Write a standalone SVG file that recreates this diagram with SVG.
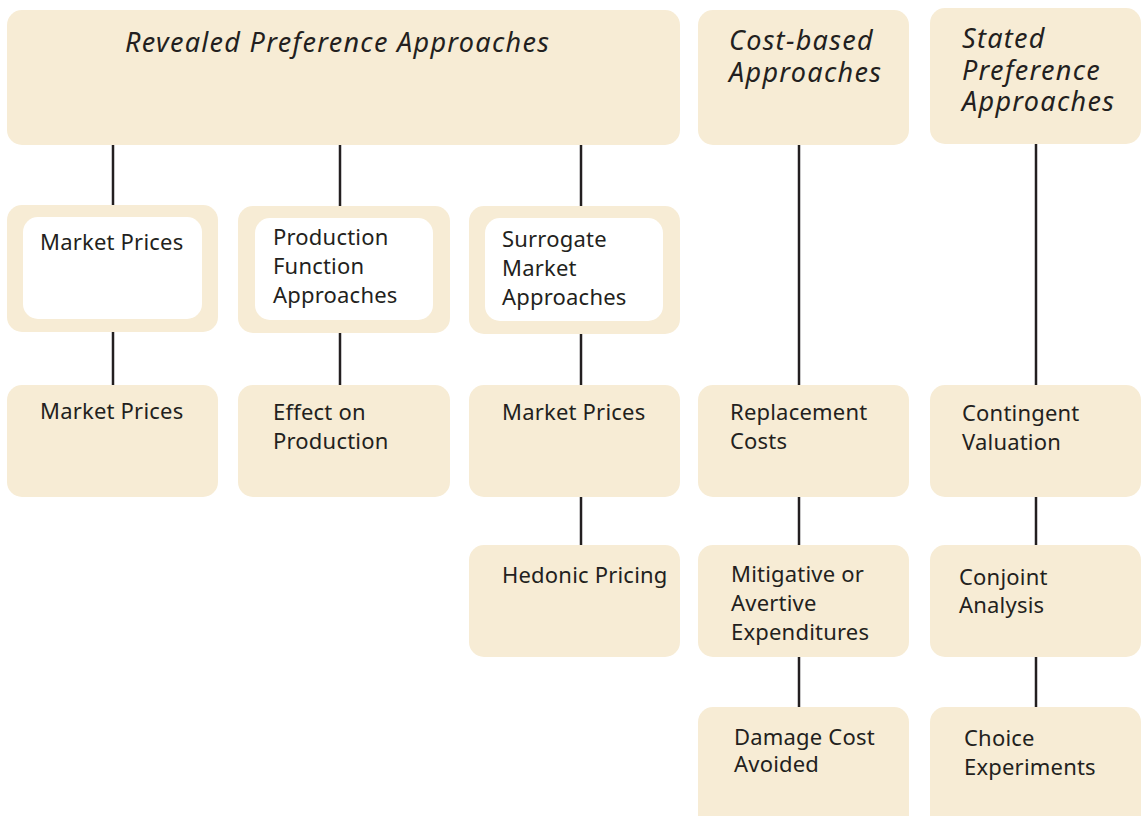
<svg xmlns="http://www.w3.org/2000/svg" width="1141" height="816" viewBox="0 0 1141 816">
<style>
.box{fill:#F7ECD5;}
.inner{fill:#FFFFFF;}
.t{font-family:"Noto Sans","Open Sans",sans-serif;font-size:22px;letter-spacing:0.2px;fill:#231F20;}
.h{font-family:"Noto Sans","Open Sans",sans-serif;font-size:27px;letter-spacing:1.3px;font-style:italic;fill:#231F20;}
.c{stroke:#231F20;stroke-width:2.5;fill:none;}
</style>
<rect width="1141" height="816" fill="#FFFFFF"/>
<g id="connectors">
<line class="c" x1="113" y1="145" x2="113" y2="206"/>
<line class="c" x1="340" y1="145" x2="340" y2="207"/>
<line class="c" x1="581" y1="145" x2="581" y2="207"/>
<line class="c" x1="113" y1="332" x2="113" y2="386"/>
<line class="c" x1="340" y1="333" x2="340" y2="386"/>
<line class="c" x1="581" y1="334" x2="581" y2="386"/>
<line class="c" x1="581" y1="497" x2="581" y2="546"/>
<line class="c" x1="799" y1="145" x2="799" y2="386"/>
<line class="c" x1="799" y1="497" x2="799" y2="546"/>
<line class="c" x1="799" y1="657" x2="799" y2="708"/>
<line class="c" x1="1036" y1="144" x2="1036" y2="386"/>
<line class="c" x1="1036" y1="497" x2="1036" y2="546"/>
<line class="c" x1="1036" y1="657" x2="1036" y2="708"/>
</g>
<g id="revealed">
<rect class="box" x="7" y="10" width="673" height="135" rx="15"/>
<text class="h" x="125" y="52">Revealed Preference Approaches</text>
</g>
<g id="costbased">
<rect class="box" x="698" y="10" width="211" height="135" rx="15"/>
<text class="h" x="729" y="50">Cost-based</text>
<text class="h" x="729" y="82">Approaches</text>
</g>
<g id="stated">
<rect class="box" x="930" y="8" width="211" height="136" rx="15"/>
<text class="h" x="962" y="48">Stated</text>
<text class="h" x="962" y="80">Preference</text>
<text class="h" x="962" y="111">Approaches</text>
</g>
<g id="marketprices1">
<rect class="box" x="7" y="205" width="211" height="127" rx="15"/>
<rect class="inner" x="23" y="217" width="179" height="102" rx="15"/>
<text class="t" x="40" y="250">Market Prices</text>
</g>
<g id="production">
<rect class="box" x="238" y="206" width="212" height="127" rx="15"/>
<rect class="inner" x="255" y="218" width="178" height="102" rx="15"/>
<text class="t" x="273" y="245">Production</text>
<text class="t" x="273" y="274">Function</text>
<text class="t" x="273" y="303">Approaches</text>
</g>
<g id="surrogate">
<rect class="box" x="469" y="206" width="211" height="128" rx="15"/>
<rect class="inner" x="485" y="218" width="178" height="103" rx="15"/>
<text class="t" x="502" y="247">Surrogate</text>
<text class="t" x="502" y="276">Market</text>
<text class="t" x="502" y="305">Approaches</text>
</g>
<g id="marketprices2">
<rect class="box" x="7" y="385" width="211" height="112" rx="15"/>
<text class="t" x="40" y="419">Market Prices</text>
</g>
<g id="effect">
<rect class="box" x="238" y="385" width="212" height="112" rx="15"/>
<text class="t" x="273" y="420">Effect on</text>
<text class="t" x="273" y="449">Production</text>
</g>
<g id="marketprices3">
<rect class="box" x="469" y="385" width="211" height="112" rx="15"/>
<text class="t" x="502" y="420">Market Prices</text>
</g>
<g id="replacement">
<rect class="box" x="698" y="385" width="211" height="112" rx="15"/>
<text class="t" x="730" y="420">Replacement</text>
<text class="t" x="730" y="449">Costs</text>
</g>
<g id="contingent">
<rect class="box" x="930" y="385" width="211" height="112" rx="15"/>
<text class="t" x="962" y="421">Contingent</text>
<text class="t" x="962" y="450">Valuation</text>
</g>
<g id="hedonic">
<rect class="box" x="469" y="545" width="211" height="112" rx="15"/>
<text class="t" x="502" y="583">Hedonic Pricing</text>
</g>
<g id="mitigative">
<rect class="box" x="698" y="545" width="211" height="112" rx="15"/>
<text class="t" x="731" y="582">Mitigative or</text>
<text class="t" x="731" y="611">Avertive</text>
<text class="t" x="731" y="640">Expenditures</text>
</g>
<g id="conjoint">
<rect class="box" x="930" y="545" width="211" height="112" rx="15"/>
<text class="t" x="959" y="585">Conjoint</text>
<text class="t" x="959" y="613">Analysis</text>
</g>
<g id="damage">
<rect class="box" x="698" y="707" width="211" height="125" rx="15"/>
<text class="t" x="734" y="745">Damage Cost</text>
<text class="t" x="734" y="772">Avoided</text>
</g>
<g id="choice">
<rect class="box" x="930" y="707" width="211" height="125" rx="15"/>
<text class="t" x="964" y="746">Choice</text>
<text class="t" x="964" y="775">Experiments</text>
</g>
</svg>
